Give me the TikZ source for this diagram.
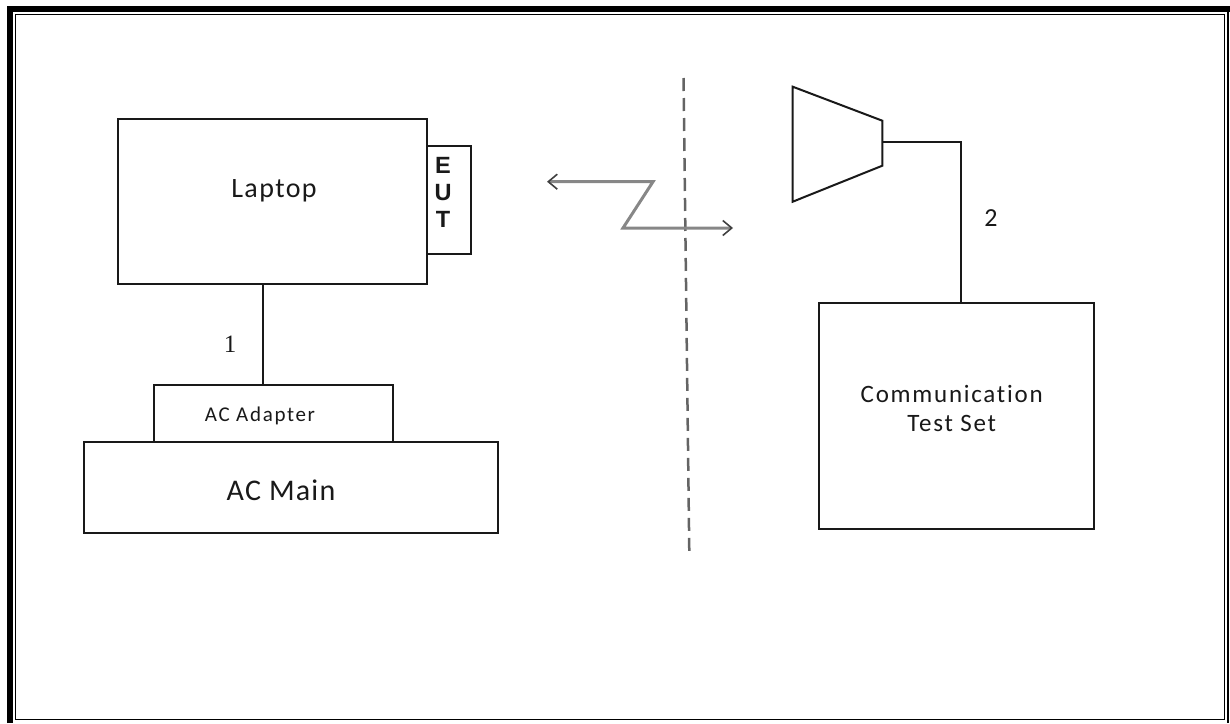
\documentclass[tikz,border=0pt]{standalone}
\usepackage{fontspec}
\setmainfont{Carlito}[Ligatures=NoCommon]
\newfontfamily\calA[LetterSpace=5,Ligatures=NoCommon]{Carlito}
\newfontfamily\calB[LetterSpace=8,Ligatures=NoCommon]{Carlito}
\newfontfamily\calC[LetterSpace=4,Ligatures=NoCommon]{Carlito}
\newfontfamily\calD[LetterSpace=7,Ligatures=NoCommon]{Carlito}
\newfontfamily\arialb{Liberation Sans}
\newfontfamily\serifd{Liberation Serif}
\usetikzlibrary{arrows.meta}
\definecolor{ink}{RGB}{25,25,25}
\definecolor{dashgray}{RGB}{100,100,100}
\definecolor{wavegray}{RGB}{135,135,135}
\tikzset{
  box/.style={draw=ink, line width=2pt, inner sep=0pt, outer sep=0pt, fill=white},
  wire/.style={draw=ink, line width=2pt},
  txt/.style={text=ink, inner sep=0pt, outer sep=0pt, anchor=base},
  wave/.style={draw=wavegray, line width=3pt,
    arrows={Straight Barb[length=9pt,width=15pt,line width=1.6pt,color=black!75]-Straight Barb[length=9pt,width=15pt,line width=1.6pt,color=black!75]}},
  divider/.style={draw=dashgray, line width=2.5pt, dash pattern=on 13pt off 7pt}
}
\begin{document}
\begin{tikzpicture}[x=1pt,y=-1pt]
\useasboundingbox (0,0) rectangle (1230,723);
% page border
\draw[line width=6pt] (10,723) -- (10,9) -- (1230,9);
\draw[line width=1.5pt] (15.5,14.5) rectangle (1224.3,719.5);
\draw[line width=2.5pt] (1228,9) -- (1228,723);

% boxes
\node[box, minimum width=309pt, minimum height=165pt] (laptop) at (272.5,201.5) {};
\node[box, minimum width=44pt, minimum height=108.3pt] (eut) at (449,199.9) {};
\node[box, minimum width=238.7pt, minimum height=56.7pt] (adapter) at (273.3,413.3) {};
\node[box, minimum width=414pt, minimum height=91pt] (acmain) at (291,487.2) {};
\node[box, minimum width=275pt, minimum height=226.6pt] (cts) at (956.8,416) {};

% texts
\node[txt, font=\calA\fontsize{28}{33}\selectfont] (tlaptop) at (274,197) {Laptop};
\node[txt, anchor=center, align=center, font=\arialb\bfseries\fontsize{23.5}{27}\selectfont] (teut) at (443,192.5) {E\\U\\T};
\node[txt, font=\calB\fontsize{21}{25}\selectfont] (tadapter) at (260,421.7) {AC Adapter};
\node[txt, font=\calC\fontsize{30}{35}\selectfont] (tmain) at (281,500) {AC Main};
\node[txt, font=\calD\fontsize{25}{30}\selectfont] (tcts1) at (951.7,402.7) {Communication};
\node[txt, font=\calD\fontsize{25}{30}\selectfont] (tcts2) at (951.7,431.7) {Test Set};

% connector 1
\draw[wire] (263,0 |- laptop.south) -- (263,0 |- adapter.north);
\node[txt, font=\serifd\fontsize{25}{30}\selectfont] (n1) at (230,352) {1};

% horn antenna
\coordinate (h1) at (792.7,86.7);
\coordinate (h2) at (882.3,120.7);
\coordinate (h3) at (882.3,165.7);
\coordinate (h4) at (792.7,201.7);
\draw[wire, line join=miter] (h1) -- (h2) -- (h3) -- (h4) -- cycle;
\coordinate (feed) at (882.3,141.7);
\draw[wire] (feed) -| (960.7,0 |- cts.north);
\node[txt, font=\fontsize{26}{30}\selectfont] (n2) at (991,226.7) {2};

% divider
\coordinate (d1) at (683.5,78);
\coordinate (d2) at (689.3,553);
\draw[divider] (d1) -- (d2);

% wireless link
\coordinate (za) at (547,181.7);
\coordinate (zb) at (653,181.7);
\coordinate (zc) at (623,228);
\coordinate (zd) at (733,228);
\draw[wave, line join=miter] (za) -- (zb) -- (zc) -- (zd);
\end{tikzpicture}
\end{document}
